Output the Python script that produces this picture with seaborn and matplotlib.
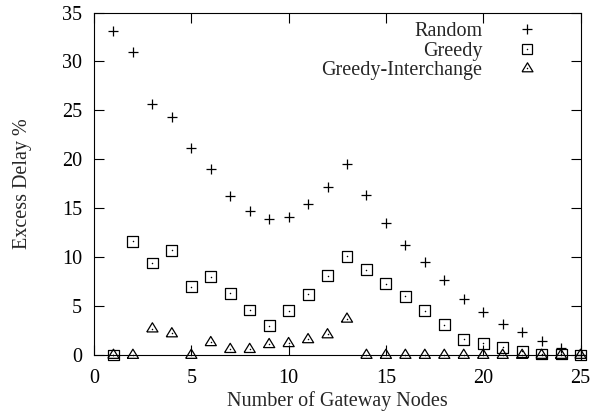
import numpy as np
import pandas as pd
import matplotlib
matplotlib.use("Agg")
import matplotlib.pyplot as plt
from matplotlib.lines import Line2D
import seaborn as sns

nodes = list(range(1, 26))
random_delay = [33.1, 31.0, 25.6, 24.3, 21.2, 19.0, 16.2, 14.7, 13.9, 14.1, 15.4, 17.2, 19.5,
                16.3, 13.5, 11.2, 9.5, 7.7, 5.7, 4.4, 3.2, 2.3, 1.4, 0.7, 0.0]
greedy_delay = [0.0, 11.6, 9.4, 10.7, 7.0, 8.0, 6.3, 4.6, 3.0, 4.5, 6.2, 8.1, 10.1,
                8.7, 7.3, 6.0, 4.5, 3.1, 1.6, 1.2, 0.8, 0.4, 0.1, 0.1, 0.0]
gi_delay = [0.0, 0.0, 2.7, 2.2, 0.0, 1.3, 0.6, 0.6, 1.1, 1.2, 1.6, 2.1, 3.7,
            0.0, 0.0, 0.0, 0.0, 0.0, 0.0, 0.0, 0.0, 0.0, 0.0, 0.0, 0.0]
labels = ["Random", "Greedy", "Greedy-Interchange"]
xticks = [0, 5, 10, 15, 20, 25]
yticks = [0, 5, 10, 15, 20, 25, 30, 35]

df = pd.DataFrame({"nodes": nodes, "Random": random_delay,
                   "Greedy": greedy_delay, "Greedy-Interchange": gi_delay})

sns.set_theme(style="ticks")
plt.rcParams["font.family"] = ["Liberation Serif", "DejaVu Serif"]
plt.rcParams.update({
    "xtick.direction": "in", "ytick.direction": "in",
    "xtick.top": True, "ytick.right": True,
    "xtick.major.size": 7, "ytick.major.size": 7,
    "xtick.major.width": 0.8, "ytick.major.width": 0.8,
    "axes.linewidth": 0.8, "axes.edgecolor": "black",
    "xtick.color": "black", "ytick.color": "black",
})

fig = plt.figure(figsize=(6.05, 4.2), dpi=100)
ax = fig.add_axes([94/605, 65/420, (580.5-94)/605, (355-12.5)/420])

tri = [(-1.0, -0.6), (1.0, -0.6), (0.0, 1.04), (-1.0, -0.6)]

sns.scatterplot(data=df, x="nodes", y="Random", marker="+", s=52, color="black",
                linewidth=0.9, ax=ax, legend=False, clip_on=False, zorder=3)
sns.scatterplot(data=df, x="nodes", y="Greedy", marker="s", s=62, facecolor="none",
                edgecolor="black", linewidth=0.9, ax=ax, legend=False, clip_on=False, zorder=3)
sns.scatterplot(data=df, x="nodes", y="Greedy-Interchange", marker=tri, s=70, facecolor="none",
                edgecolor="black", linewidth=0.9, ax=ax, legend=False, clip_on=False, zorder=3)
for col in ["Greedy", "Greedy-Interchange"]:
    sns.scatterplot(data=df, x="nodes", y=col, marker="o", s=1.2, color="black",
                    linewidth=0, ax=ax, legend=False, clip_on=False, zorder=4)

ax.set_xlim(0, 25)
ax.set_ylim(0, 35)
ax.set_xticks(xticks)
ax.set_yticks(yticks)
ax.tick_params(axis="both", labelsize=14.5)
ax.tick_params(axis="x", pad=10)
ax.tick_params(axis="y", pad=8.5)
ax.set_xlabel("Number of Gateway Nodes", fontsize=14.5)
ax.set_ylabel("Excess Delay %", fontsize=14.5)
ax.xaxis.set_label_coords(0.5, (355-401)/342.5)
ax.xaxis.label.set_va("center")
ax.yaxis.set_label_coords((22.5-94)/486.5, 0.5)
ax.yaxis.label.set_va("center")

h_plus = Line2D([], [], marker="+", ls="none", color="black", markersize=7.2, markeredgewidth=0.9)
h_sq = (Line2D([], [], marker="s", ls="none", mfc="none", mec="black", markersize=7.7, markeredgewidth=0.9),
        Line2D([], [], marker="o", ls="none", color="black", markersize=1.1, markeredgewidth=0))
h_tri = (Line2D([], [], marker=tri, ls="none", mfc="none", mec="black", markersize=8.2, markeredgewidth=0.9),
         Line2D([], [], marker="o", ls="none", color="black", markersize=1.1, markeredgewidth=0))
leg = ax.legend([h_plus, h_sq, h_tri], labels, loc="upper right",
                bbox_to_anchor=((537-94)/486.5, (355-22)/342.5),
                frameon=False, markerfirst=False, fontsize=14.5,
                handlelength=1.0, handletextpad=1.7, labelspacing=0.03,
                borderpad=0, borderaxespad=0)

fig.savefig("out.png", dpi=100)
